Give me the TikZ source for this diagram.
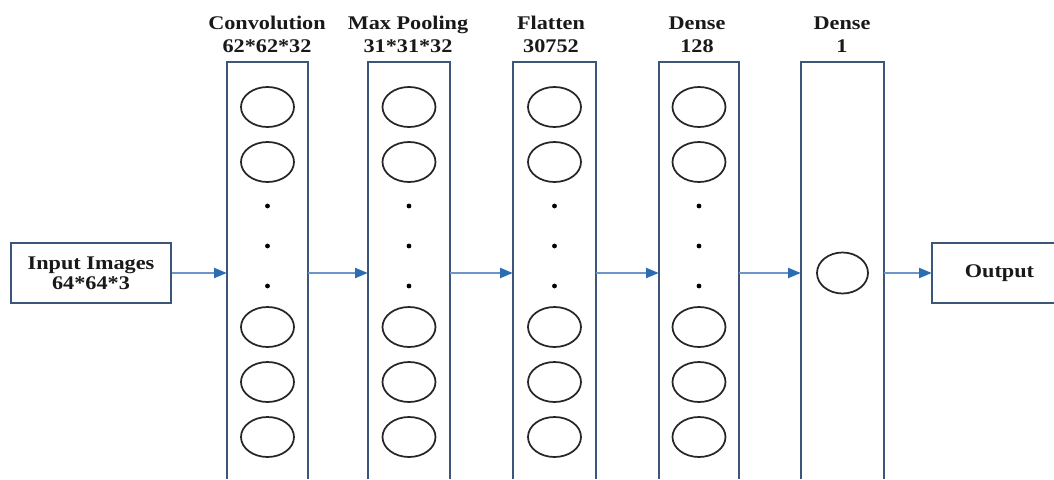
\documentclass[tikz,border=0pt]{standalone}
\usepackage{fontspec}
\setmainfont{Liberation Serif}[FakeStretch=1.15]
\usetikzlibrary{shapes.geometric,arrows.meta}
\definecolor{colline}{RGB}{60,86,122}
\definecolor{arrline}{RGB}{108,150,200}
\definecolor{arrhead}{RGB}{44,108,178}
\definecolor{txt}{RGB}{25,25,25}
\def\u{0.75pt}
\tikzset{
  lbl/.style={align=center,inner sep=0pt,text=txt,font=\bfseries\fontsize{14.5}{17.25}\selectfont},
  boxtext/.style={align=center,inner sep=0pt,text=txt,font=\bfseries\fontsize{14.5}{15}\selectfont},
  colbox/.style={draw=none,inner sep=0pt,minimum height=417*\u},
  colline/.style={draw=colline,line width=1.5pt},
  neuron/.style={ellipse,draw=black!85,line width=1.3pt,inner sep=0pt,minimum width=53*\u,minimum height=40*\u},
  dotn/.style={circle,fill=black,inner sep=0pt,minimum size=3.6pt},
  flow/.style={draw=arrline,line width=1.5pt,-{Triangle[length=9.5pt,width=7.5pt,fill=arrhead,color=arrhead]}},
}
\begin{document}
\begin{tikzpicture}[x=0.75pt,y=-0.75pt]
\useasboundingbox[fill=white] (0,0) rectangle (1054,479);
% input box
\node[draw=colline,line width=1.5pt,minimum width=160*\u,minimum height=60*\u,inner sep=0pt] (in) at (91,273) {};
\node[boxtext] (intext) at (91,273) {Input Images\\64*64*3};
% columns (open at the bottom)
\foreach \n/\x/\w in {c1/267.5/81,c2/409/82,c3/554.5/83,c4/699/80,c5/842.5/83}{
  \node[colbox,minimum width=\w*\u] (\n) at (\x,270.5) {};
  \draw[colline] (\n.south west) -- (\n.north west) -- (\n.north east) -- (\n.south east);
}
% labels
\node[lbl] (l1) at (267,34.5) {Convolution\\62*62*32};
\node[lbl] (l2) at (408,34.5) {Max Pooling\\31*31*32};
\node[lbl] (l3) at (551,34.5) {Flatten\\30752};
\node[lbl] (l4) at (697,34.5) {Dense\\128};
\node[lbl] (l5) at (842,34.5) {Dense\\1};
% neurons
\foreach \n/\x in {c1/267.5,c2/409,c3/554.5,c4/699}{
  \foreach \k/\y in {1/107,2/162,3/327,4/382,5/437}{
    \node[neuron] (\n n\k) at (\x,\y) {};
  }
  \foreach \k/\y in {1/206,2/246,3/286}{
    \node[dotn] (\n d\k) at (\x,\y) {};
  }
}
\node[neuron,minimum width=51*\u,minimum height=41*\u] (c5n1) at (842.5,273) {};
% output box (open at the right edge)
\node[draw=none,inner sep=0pt,minimum width=122*\u,minimum height=60*\u] (out) at (993,273) {};
\draw[colline] (out.north east) -- (out.north west) -- (out.south west) -- (out.south east);
\node[boxtext] (outtext) at (999.5,273) {Output};
% connectors
\draw[flow] (in.east) -- (c1.west |- in.east);
\draw[flow] (c1.east |- in.east) -- (c2.west |- in.east);
\draw[flow] (c2.east |- in.east) -- (c3.west |- in.east);
\draw[flow] (c3.east |- in.east) -- (c4.west |- in.east);
\draw[flow] (c4.east |- in.east) -- (c5.west |- in.east);
\draw[flow] (c5.east |- in.east) -- (out.west);
\end{tikzpicture}
\end{document}
